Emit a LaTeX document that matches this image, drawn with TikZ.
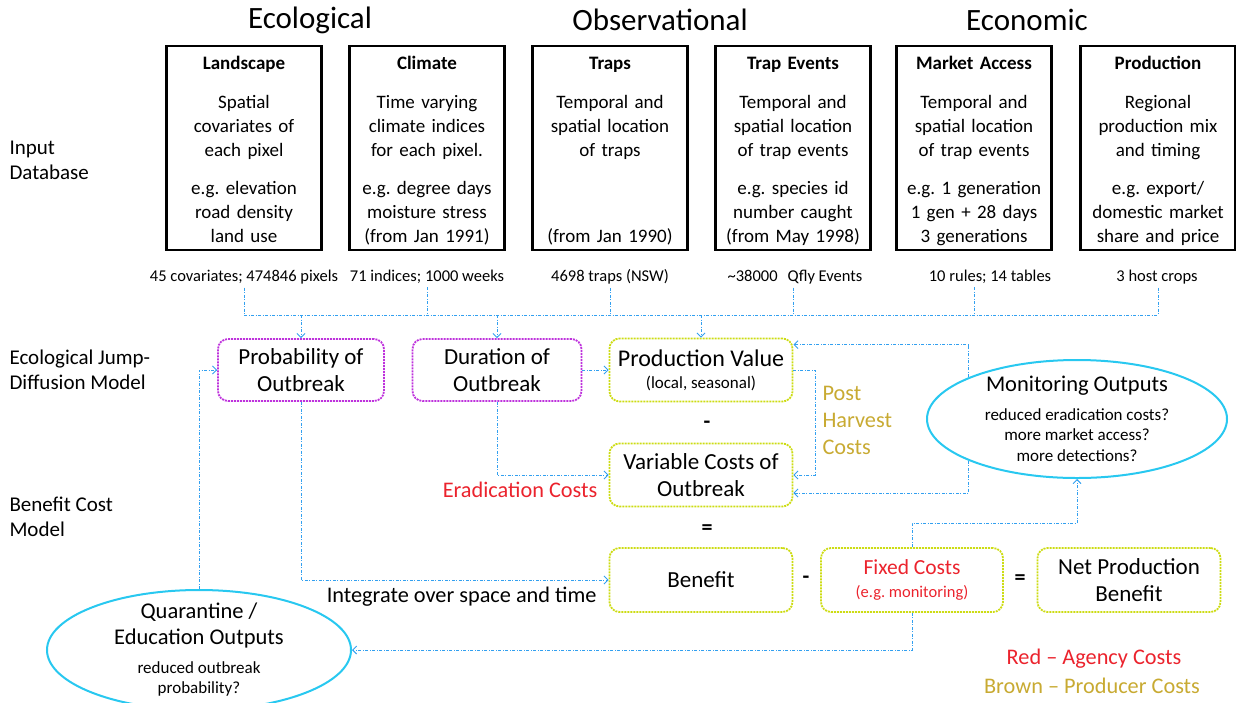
\documentclass[tikz,border=0pt]{standalone}
\usepackage{fontspec}
\setmainfont{Carlito}
\usetikzlibrary{shapes.geometric,arrows.meta}
\definecolor{flowblue}{RGB}{50,160,240}
\definecolor{ecopurple}{RGB}{190,50,220}
\definecolor{econgreen}{RGB}{205,220,20}
\definecolor{outcyan}{RGB}{40,200,240}
\definecolor{agencyred}{RGB}{235,35,45}
\definecolor{producerbrown}{RGB}{200,170,50}
\tikzset{
  >={Straight Barb[length=4pt,width=8pt]}, % open arrow heads
  header/.style={font=\fontsize{31}{36}\selectfont},
  side/.style={anchor=west, align=left, font=\fontsize{21}{25}\selectfont},
  inbox/.style={draw, line width=2.3pt, minimum width=155pt, minimum height=195pt,
    text width=150pt, align=center, inner sep=0pt, font=\fontsize{19}{24}\selectfont},
  count/.style={font=\fontsize{16.5}{20}\selectfont},
  ecobox/.style={draw=ecopurple, line width=1.8pt, dash pattern=on 2pt off 1pt,
    rounded corners=10pt, align=center, font=\fontsize{23}{27}\selectfont},
  econbox/.style={ecobox, draw=econgreen},
  outcome/.style={ellipse, draw=outcyan, line width=2pt, fill=white, inner sep=0pt},
  flow/.style={draw=flowblue, line width=0.9pt, dash pattern=on 3pt off 1.5pt on 1pt off 1.5pt},
  op/.style={font=\fontsize{22}{26}\selectfont\bfseries},
  note/.style={font=\fontsize{22.3}{27}\selectfont}
}
\newcommand{\boxtitle}[1]{{\bfseries\fontsize{19}{22}\selectfont\rule{0pt}{23.5pt}#1}}
\newcommand{\bigline}[1]{{\fontsize{22.5}{26}\selectfont #1}}
\frenchspacing

\begin{document}
\begin{tikzpicture}[x=1pt,y=-1pt]
  \useasboundingbox (0,0) rectangle (1236,702);

  % column headers
  \node[header] (heco) at (310,20) {Ecological};
  \node[header] (hobs) at (660,20) {Observational};
  \node[header] (hecn) at (1027,20) {Economic};

  % row labels
  \node[side] (linput) at (6,160) {Input\\Database};
  \node[side] (ljump) at (6,370) {Ecological Jump-\\Diffusion Model};
  \node[side] (lbc) at (6,517) {Benefit Cost\\Model};

  % input database
  \node[inbox] (land) at (244,148) {\boxtitle{Landscape}\\[15pt] Spatial\\covariates of\\each pixel\\[14pt] e.g. elevation\\road density\\land use\strut};
  \node[inbox] (clim) at (427,148) {\boxtitle{Climate}\\[15pt] Time varying\\climate indices\\for each pixel.\\[14pt] e.g. degree days\\moisture stress\\(from Jan 1991)\strut};
  \node[inbox] (trap) at (610,148) {\boxtitle{Traps}\\[15pt] Temporal and\\spatial location\\of traps\\[62pt] (from Jan 1990)\strut};
  \node[inbox] (evt) at (793,148) {\boxtitle{Trap Events}\\[15pt] Temporal and\\spatial location\\of trap events\\[14pt] e.g. species id\\number caught\\(from May 1998)\strut};
  \node[inbox] (mkt) at (974,148) {\boxtitle{Market Access}\\[15pt] Temporal and\\spatial location\\of trap events\\[14pt] e.g. 1 generation\\1 gen + 28 days\\3 generations\strut};
  \node[inbox] (prd) at (1158,148) {\boxtitle{Production}\\[15pt] Regional\\production mix\\and timing\\[14pt] e.g. export/\\domestic market\\share and price\strut};

  \node[count] (nland) at (244,277) {45 covariates; 474846 pixels};
  \node[count] (nclim) at (427,277) {71 indices; 1000 weeks};
  \node[count] (ntrap) at (610,277) {4698 traps (NSW)};
  \node[count] (nevt) at (795,277) {\textasciitilde38000\hspace{10pt}Qfly Events};
  \node[count] (nmkt) at (990,277) {10 rules; 14 tables};
  \node[count] (nprd) at (1157,277) {3 host crops};

  % models
  \node[ecobox, minimum width=166pt, minimum height=62pt] (prob) at (301,370) {Probability of\\Outbreak};
  \node[ecobox, minimum width=169pt, minimum height=62pt] (dur) at (497,370) {Duration of\\Outbreak};
  \node[econbox, minimum width=183pt, minimum height=63pt] (prod) at (701,370) {{\fontsize{24}{27}\selectfont Production Value}\\[-5pt]{\fontsize{17}{18}\selectfont (local, seasonal)}};
  \node[econbox, minimum width=183pt, minimum height=63pt] (var) at (701,475) {Variable Costs of\\Outbreak};
  \node[econbox, minimum width=183pt, minimum height=64pt] (ben) at (701,580) {Benefit};
  \node[econbox, minimum width=182pt, minimum height=64pt, text=agencyred] (fix) at (912,580) {{\fontsize{21.5}{26}\selectfont Fixed Costs}\\[-4pt]{\fontsize{16.5}{17}\selectfont (e.g. monitoring)}};
  \node[econbox, minimum width=183pt, minimum height=64pt] (net) at (1129,580) {Net Production\\Benefit};

  \node[op] (minus1) at (707,425) {-};
  \node[op] (equal1) at (707,530) {=};
  \node[op] (minus2) at (806,580) {-};
  \node[op] (equal2) at (1020,580) {=};

  % outputs
  \node[outcome, minimum width=300pt, minimum height=118pt] (mon) at (1077,419) {};
  \node[align=center, font=\fontsize{17}{20.5}\selectfont] (montext) at (mon.center)
    {\bigline{Monitoring Outputs}\\[8pt] reduced eradication costs?\\more market access?\\more detections?};
  \node[outcome, minimum width=304pt, minimum height=120pt] (qua) at (199,650) {};
  \node[align=center, font=\fontsize{17}{20}\selectfont] (quatext) at (qua.center)
    {\bigline{Quarantine /}\\[6pt]\bigline{Education Outputs}\\[9pt] reduced outbreak\\probability?};

  % labels
  \node[note, anchor=east] (integ) at (600,597) {Integrate over space and time};
  \node[note, anchor=east, text=agencyred] (erad) at (601,490) {Eradication Costs};
  \node[note, anchor=north west, align=left, text=producerbrown] (post) at (819,383) {Post\\Harvest\\Costs};
  \node[note, text=agencyred] (lred) at (1094,659) {Red -- Agency Costs};
  \node[note, text=producerbrown] (lbrown) at (1092,686) {Brown -- Producer Costs};

  % data feeds
  \coordinate (bus) at (0,315);
  \foreach \b/\n in {land/nland,clim/nclim,trap/ntrap,evt/nevt,mkt/nmkt,prd/nprd}
    \draw[flow] (\b.south |- \n.south) -- (\b.south |- bus);
  \draw[flow] (land.south |- bus) -- (prd.south |- bus);
  \foreach \m in {prob,dur,prod}
    \draw[flow,->] (\m.north |- bus) -- (\m.north);

  % flows
  \draw[flow,->] (dur.east) -- (prod.west);
  \draw[flow,->] (dur.south) |- (var.west);
  \draw[flow,->] (prob.south) |- (ben.west);
  \draw[flow,->] (prod.east) -- ++(22,0) |- (var.east);
  \draw[flow,->] (mon.159) |- ([yshift=-7pt]prod.north east);
  \draw[flow,->] (mon.201) |- ([yshift=-18pt]var.east);
  \draw[flow,->] (fix.north) -- ++(0,-24) -| (mon.south);
  \draw[flow,->] (fix.south) |- (qua.east);
  \draw[flow,->] (qua.north) |- (prob.west);
\end{tikzpicture}
\end{document}
